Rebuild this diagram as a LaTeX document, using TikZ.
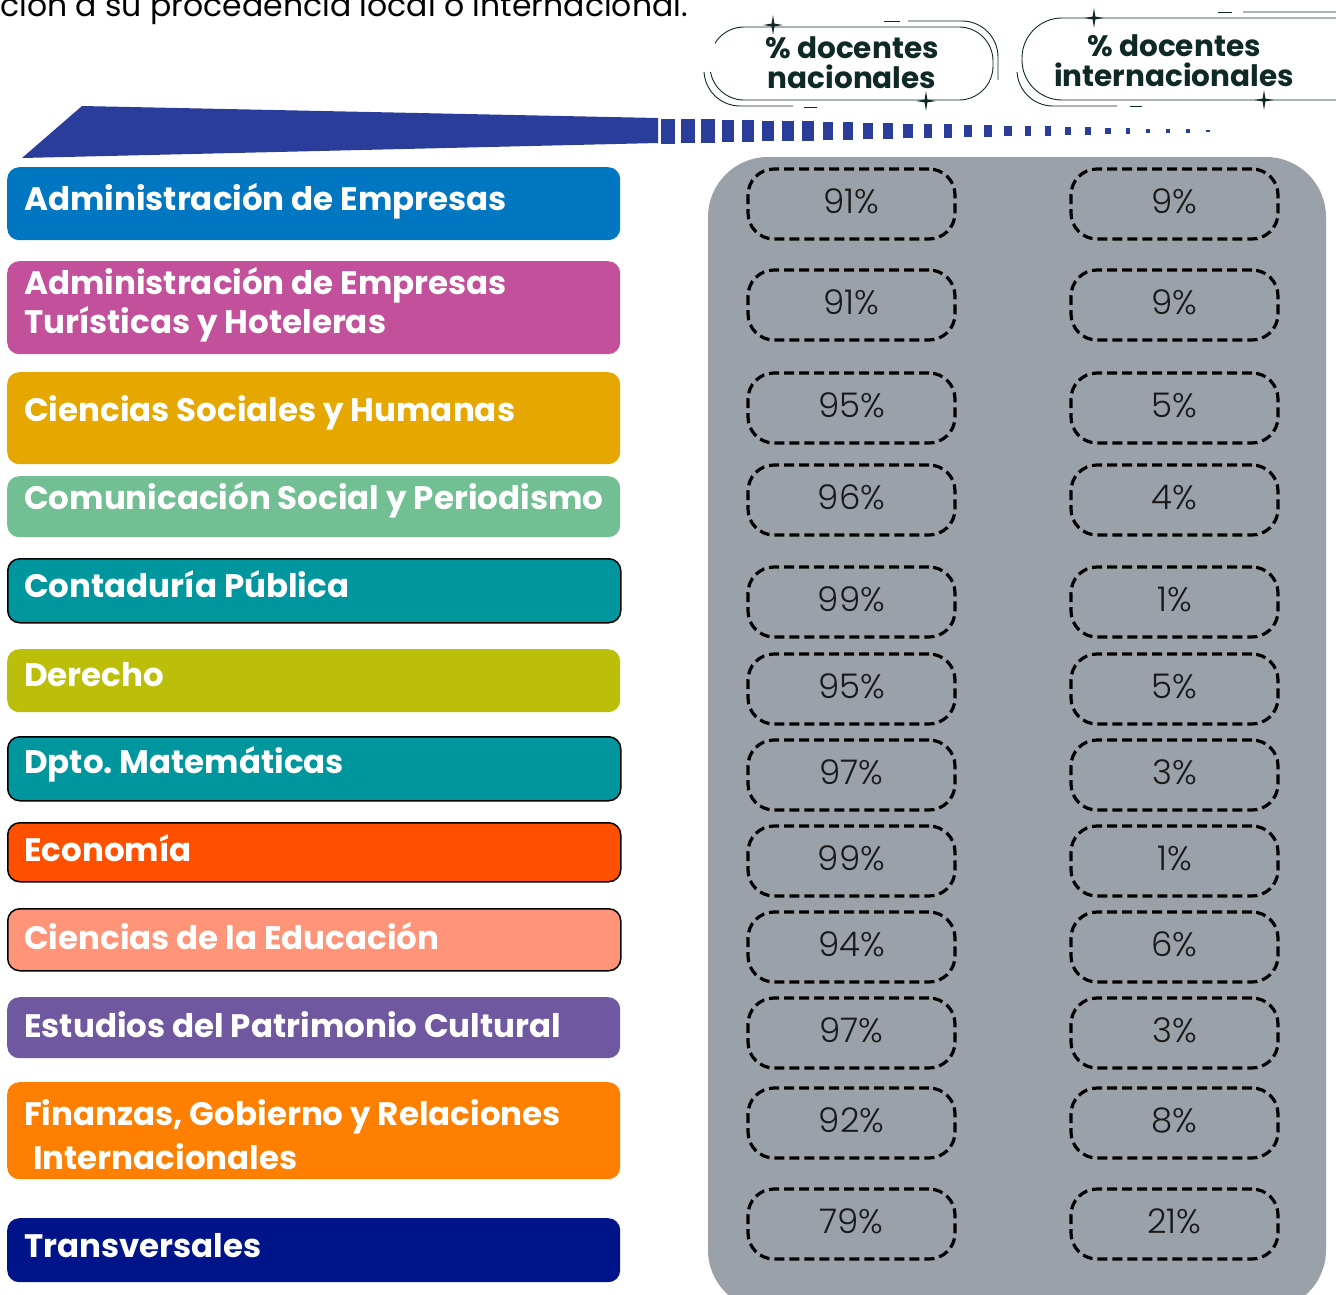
\documentclass[tikz,border=0pt]{standalone}
\usepackage{fontspec}
\setmainfont{Poppins}
\newfontfamily\lightfont{Poppins Light}
\frenchspacing
\definecolor{cA}{HTML}{0077C0}
\definecolor{cB}{HTML}{C2509A}
\definecolor{cC}{HTML}{E6A800}
\definecolor{cD}{HTML}{71BF93}
\definecolor{cE}{HTML}{00969E}
\definecolor{cF}{HTML}{BCBF0A}
\definecolor{cG}{HTML}{FF5000}
\definecolor{cH}{HTML}{FF9478}
\definecolor{cI}{HTML}{7058A0}
\definecolor{cJ}{HTML}{FF8000}
\definecolor{cK}{HTML}{001489}
\definecolor{wedgeblue}{HTML}{2B3D9B}
\definecolor{panelgray}{HTML}{9BA1A8}
\definecolor{headtext}{HTML}{0F2A26}
\newcommand{\sparkle}[2]{\fill[headtext] (#1,#2-10) -- (#1+1.4,#2-1.4) -- (#1+10,#2) -- (#1+1.4,#2+1.4) -- (#1,#2+10) -- (#1-1.4,#2+1.4) -- (#1-10,#2) -- (#1-1.4,#2-1.4) -- cycle;}
\begin{document}
\begin{tikzpicture}[x=1pt,y=-1pt,
  labbox/.style={rounded corners=12pt, minimum width=613pt, anchor=north west, inner sep=0pt},
  labtext/.style={anchor=base west, inner sep=0pt, text=white,
    font=\fontsize{32.5}{38}\selectfont\bfseries},
  edged/.style={draw=black, line width=1.5pt},
  pct/.style={draw=black, line width=3.2pt, dash pattern=on 10pt off 5pt,
    rounded corners=26pt, minimum width=207pt, minimum height=70pt,
    font=\lightfont\fontsize{34}{38}\selectfont, text=black!90},
  headlab/.style={align=center, text=headtext, font=\fontsize{29.5}{30}\selectfont\bfseries},
  thinline/.style={draw=headtext, line width=0.9pt}
]
\useasboundingbox (0,0) rectangle (1336,1294);
% top text (cut)
\node[anchor=base west, inner sep=0pt, font=\fontsize{31.5}{34}\selectfont] (intro) at (0,16) {ción a su procedencia local o internacional.};
% wedge
\fill[wedgeblue] (22,158) -- (82,106) -- (658,118) -- (658,143) -- cycle;
\foreach \i in {0,...,27}{
  \pgfmathsetmacro{\xx}{661+\i*20.2}
  \pgfmathsetmacro{\ww}{14-0.4*\i}
  \pgfmathsetmacro{\hh}{12.5-0.42*\i}
  \fill[wedgeblue] (\xx,131-\hh) rectangle (\xx+\ww,131+\hh);
}
% header pills
\draw[thinline, rounded corners=34pt] (710,27) rectangle (993,100);
\draw[thinline, rounded corners=36pt] (908,21) -- (998,21) -- (998,110);
\draw[thinline] (884,21) -- (900,21);
\draw[thinline, rounded corners=36pt] (704,0) -- (704,106) -- (793,106);
\fill[white] (700,0) rectangle (715,72);
\draw[thinline] (804,107) -- (817,107);
\fill[white] (990,80) rectangle (1003,112);
\sparkle{773}{25}
\sparkle{926}{101}
\node[headlab] (hnac) at (852,63) {\% docentes\\nacionales};

\draw[thinline, rounded corners=40pt] (1022,18) rectangle (1380,100);
\draw[thinline, rounded corners=40pt] (1243,12) -- (1385,12) -- (1385,60);
\draw[thinline] (1218,12) -- (1232,12);
\draw[thinline, rounded corners=36pt] (1017,0) -- (1017,106) -- (1117,106);
\fill[white] (1010,0) rectangle (1020,72);
\draw[thinline] (1130,106) -- (1142,106);
\sparkle{1094}{18}
\sparkle{1264}{100}
\node[headlab] (hint) at (1174,61) {\% docentes\\internacionales};

% gray panel
\fill[panelgray, rounded corners=60pt] (708,157) rectangle (1326,1310);

% left label boxes
\node[labbox, fill=cA, minimum height=73pt] (l1) at (7,167) {};
\node[labbox, fill=cB, minimum height=93pt] (l2) at (7,261) {};
\node[labbox, fill=cC, minimum height=92pt] (l3) at (7,372) {};
\node[labbox, fill=cD, minimum height=61pt] (l4) at (7,476) {};
\node[labbox, fill=cE, edged, minimum height=64pt] (l5) at (7,558) {};
\node[labbox, fill=cF, minimum height=63pt] (l6) at (7,649) {};
\node[labbox, fill=cE, edged, minimum height=64pt] (l7) at (7,736) {};
\node[labbox, fill=cG, edged, minimum height=59pt] (l8) at (7,822) {};
\node[labbox, fill=cH, edged, minimum height=62pt] (l9) at (7,908) {};
\node[labbox, fill=cI, minimum height=61pt] (l10) at (7,997) {};
\node[labbox, fill=cJ, minimum height=97pt] (l11) at (7,1082) {};
\node[labbox, fill=cK, minimum height=64pt] (l12) at (7,1218) {};
% label texts
\node[labtext] (t1) at (24,210) {Administración de Empresas};
\node[labtext] (t2a) at (24,294) {Administración de Empresas};
\node[labtext] (t2b) at (24,333) {Turísticas y Hoteleras};
\node[labtext] (t3) at (24,421) {Ciencias Sociales y Humanas};
\node[labtext] (t4) at (24,509) {Comunicación Social y Periodismo};
\node[labtext] (t5) at (24,597) {Contaduría Pública};
\node[labtext] (t6) at (24,686) {Derecho};
\node[labtext] (t7) at (24,773) {Dpto. Matemáticas};
\node[labtext] (t8) at (24,861) {Economía};
\node[labtext] (t9) at (24,949) {Ciencias de la Educación};
\node[labtext] (t10) at (24,1037) {Estudios del Patrimonio Cultural};
\node[labtext] (t11a) at (24,1125) {Finanzas, Gobierno y Relaciones};
\node[labtext] (t11b) at (33,1169) {Internacionales};
\node[labtext] (t12) at (24,1257) {Transversales};

% percentage pills
\foreach \y/\a/\b [count=\k] in {204/91/9, 305/91/9, 408/95/5, 500/96/4, 602/99/1, 689/95/5, 775/97/3, 861/99/1, 947/94/6, 1033/97/3, 1123/92/8, 1224/79/21}{
  \node[pct] (n\k) at (851.5,\y) {\raisebox{5pt}{\a\%}};
  \node[pct] (i\k) at (1174.5,\y) {\raisebox{5pt}{\b\%}};
}
\end{tikzpicture}
\end{document}
